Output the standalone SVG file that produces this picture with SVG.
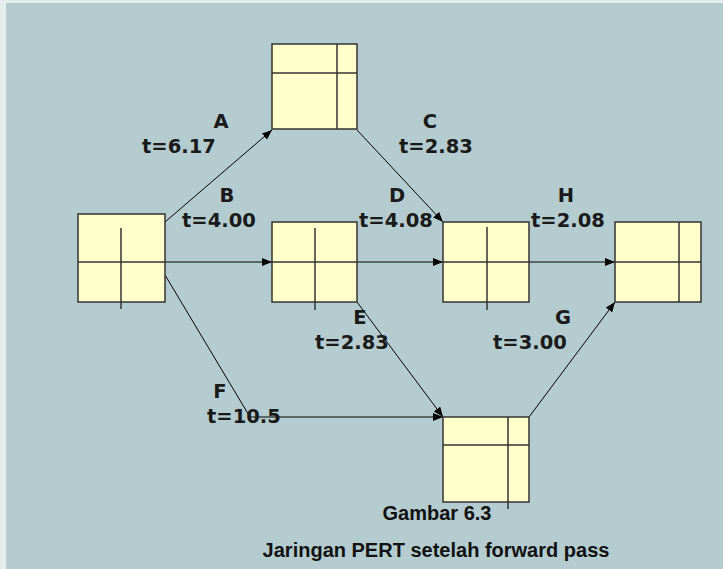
<svg xmlns="http://www.w3.org/2000/svg" width="723" height="569" viewBox="0 0 723 569">
  <defs>
    <marker id="arrow" viewBox="0 0 10 8" refX="10" refY="4" markerWidth="10" markerHeight="8" markerUnits="userSpaceOnUse" orient="auto">
      <path d="M0,0 L10,4 L0,8 Z" fill="#000"/>
    </marker>
    <style>
      .box { fill: #ffffcc; stroke: #333; stroke-width: 1.5; }
      .div { stroke: #333; stroke-width: 1.5; fill: none; }
      .edge { stroke: #000; stroke-width: 1; fill: none; }
      .arr { marker-end: url(#arrow); }
      .lbl { font-family: "DejaVu Sans", Verdana, sans-serif; font-weight: bold; font-size: 19.5px; fill: #1a1a1a; }
      .cap { font-family: "Liberation Sans", Arial, sans-serif; font-weight: bold; font-size: 20px; fill: #111; text-anchor: middle; }
    </style>
  </defs>

  <!-- page background -->
  <rect x="0" y="0" width="723" height="569" fill="#b4ccd0"/>
  <rect x="0" y="0" width="6" height="569" fill="#e4ecec"/>
  <rect x="0" y="0" width="723" height="3" fill="#e4ecec"/>

  <!-- activity arrows -->
  <g id="connectors">
    <line class="edge arr" x1="165" y1="222" x2="272" y2="130"/>
    <line class="edge arr" x1="357" y1="130" x2="443" y2="222"/>
    <line class="edge arr" x1="165" y1="262" x2="272" y2="262"/>
    <line class="edge arr" x1="357" y1="262" x2="443" y2="262"/>
    <line class="edge arr" x1="529" y1="262" x2="615" y2="262"/>
    <line class="edge arr" x1="357" y1="302" x2="443" y2="417"/>
    <polyline class="edge arr" points="165,275 250,417 443,417"/>
    <line class="edge arr" x1="529" y1="417" x2="615" y2="302"/>
  </g>

  <!-- event nodes -->
  <g id="node-start">
    <rect class="box" x="78" y="214" width="87" height="88"/>
    <line class="div" x1="78" y1="262" x2="165" y2="262"/>
    <line class="div" x1="121" y1="228" x2="121" y2="309"/>
  </g>
  <g id="node-top">
    <rect class="box" x="272" y="44" width="85" height="85"/>
    <line class="div" x1="272" y1="73" x2="357" y2="73"/>
    <line class="div" x1="337" y1="44" x2="337" y2="129"/>
  </g>
  <g id="node-mid">
    <rect class="box" x="272" y="222" width="85" height="80"/>
    <line class="div" x1="272" y1="262" x2="357" y2="262"/>
    <line class="div" x1="315" y1="228" x2="315" y2="310"/>
  </g>
  <g id="node-right">
    <rect class="box" x="443" y="222" width="86" height="80"/>
    <line class="div" x1="443" y1="262" x2="529" y2="262"/>
    <line class="div" x1="487" y1="227" x2="487" y2="310"/>
  </g>
  <g id="node-end">
    <rect class="box" x="615" y="222" width="86" height="80"/>
    <line class="div" x1="615" y1="262" x2="701" y2="262"/>
    <line class="div" x1="679" y1="222" x2="679" y2="302"/>
  </g>
  <g id="node-bottom">
    <rect class="box" x="443" y="417" width="86" height="85"/>
    <line class="div" x1="443" y1="445" x2="529" y2="445"/>
    <line class="div" x1="508" y1="417" x2="508" y2="509"/>
  </g>

  <!-- activity labels -->
  <g id="labels">
    <text class="lbl" x="221" y="128" text-anchor="middle">A</text>
    <text class="lbl" x="142" y="153">t=6.17</text>
    <text class="lbl" x="227" y="202" text-anchor="middle">B</text>
    <text class="lbl" x="182" y="227">t=4.00</text>
    <text class="lbl" x="430" y="128" text-anchor="middle">C</text>
    <text class="lbl" x="399" y="153">t=2.83</text>
    <text class="lbl" x="397" y="202" text-anchor="middle">D</text>
    <text class="lbl" x="359" y="227">t=4.08</text>
    <text class="lbl" x="566" y="202" text-anchor="middle">H</text>
    <text class="lbl" x="531" y="227">t=2.08</text>
    <text class="lbl" x="360" y="324" text-anchor="middle">E</text>
    <text class="lbl" x="315" y="349">t=2.83</text>
    <text class="lbl" x="563" y="324" text-anchor="middle">G</text>
    <text class="lbl" x="493" y="349">t=3.00</text>
    <text class="lbl" x="220" y="398" text-anchor="middle">F</text>
    <text class="lbl" x="207" y="423">t=10.5</text>
  </g>

  <!-- caption -->
  <text class="cap" x="437" y="520">Gambar 6.3</text>
  <text class="cap" x="436" y="557">Jaringan PERT setelah forward pass</text>
</svg>
